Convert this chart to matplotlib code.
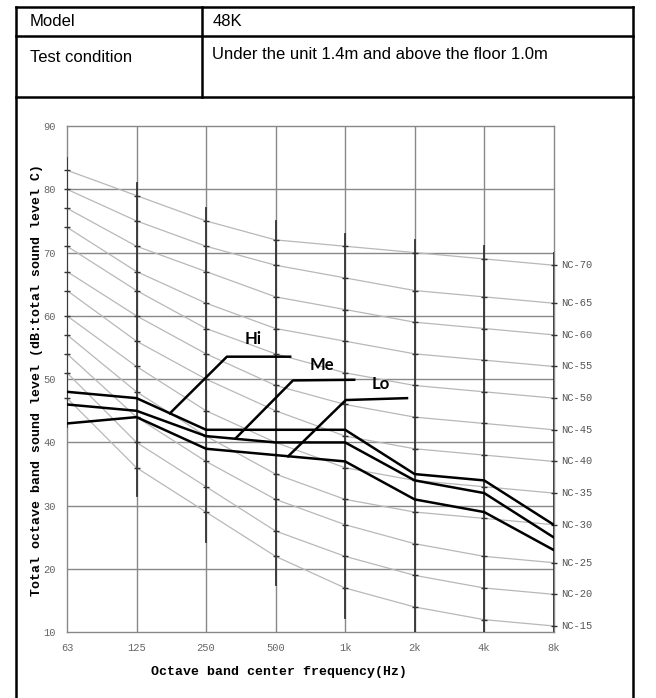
import matplotlib
matplotlib.use('Agg')
import matplotlib.pyplot as plt
from matplotlib.lines import Line2D

# octave bands
bands = ['63', '125', '250', '500', '1k', '2k', '4k', '8k']
x = list(range(len(bands)))

# measured levels (dB)
hi = [48, 47, 42, 42, 42, 35, 34, 27]
me = [46, 45, 41, 40, 40, 34, 32, 25]
lo = [43, 44, 39, 38, 37, 31, 29, 23]

# NC reference curves
nc_levels = [15, 20, 25, 30, 35, 40, 45, 50, 55, 60, 65, 70]
nc_curves = [
    [47, 36, 29, 22, 17, 14, 12, 11],
    [51, 40, 33, 26, 22, 19, 17, 16],
    [54, 44, 37, 31, 27, 24, 22, 21],
    [57, 48, 41, 35, 31, 29, 28, 27],
    [60, 52, 45, 40, 36, 34, 33, 32],
    [64, 56, 50, 45, 41, 39, 38, 37],
    [67, 60, 54, 49, 46, 44, 43, 42],
    [71, 64, 58, 54, 51, 49, 48, 47],
    [74, 67, 62, 58, 56, 54, 53, 52],
    [77, 71, 67, 63, 61, 59, 58, 57],
    [80, 75, 71, 68, 66, 64, 63, 62],
    [83, 79, 75, 72, 71, 70, 69, 68],
]
ruler_top = [85, 81, 77, 75, 73, 72, 71, 70]
ruler_bottom = [42.5, 31.5, 24.3, 17.4, 12.2, 10, 10, 10]

# leader lines for labels: (start, corner, end), label position
hi_leader = ([1.48, 2.30, 3.21], [44.6, 53.55, 53.55])
me_leader = ([2.43, 3.25, 4.13], [40.7, 49.8, 49.9])
lo_leader = ([3.18, 4.01, 4.89], [37.8, 46.7, 47.0])
labels = ['Hi', 'Me', 'Lo']
label_x = [2.68, 3.66, 4.51]
label_y = [56.3, 52.2, 49.2]

W, H = 656, 698
fig = plt.figure(figsize=(W / 100, H / 100), dpi=100)

def fx(px):
    return px / W

def fy(py):
    return 1 - py / H

def fline(x0, y0, x1, y1):
    fig.add_artist(Line2D([fx(x0), fx(x1)], [fy(y0), fy(y1)],
                          transform=fig.transFigure, color='black', lw=1.8))

# table frame
fline(16, 7.3, 632.7, 7.3)
fline(16, 36, 632.7, 36)
fline(16, 96.7, 632.7, 96.7)
fline(16, 7.3, 16, 698)
fline(632.7, 7.3, 632.7, 698)
fline(201.7, 7.3, 201.7, 96.7)

tfont = dict(family='Liberation Sans', fontsize=12, va='center', ha='left')
fig.text(fx(30), fy(21.5), 'Model', **tfont)
fig.text(fx(213), fy(21.5), '48K', **tfont)
fig.text(fx(30), fy(57), 'Test condition', **tfont)
fig.text(fx(212), fy(54.5), 'Under the unit 1.4m and above the floor 1.0m', **tfont)

# chart
ax = fig.add_axes([fx(67), fy(632.3), (553.7 - 67) / W, (632.3 - 126) / H])
ax.set_xlim(0, 7)
ax.set_ylim(10, 90)
for s in ax.spines.values():
    s.set_color('#888888')
    s.set_linewidth(1.0)

for yv in range(20, 90, 10):
    ax.axhline(yv, color='#888888', lw=1.0, zorder=1)
for xv in x[1:-1]:
    ax.axvline(xv, color='#888888', lw=1.0, zorder=1)

for vals in nc_curves:
    ax.plot(x, vals, color='#b8b8b8', lw=0.9, zorder=2)

# rulers with tick marks at the NC values
for i in x:
    ax.plot([i, i], [ruler_bottom[i], ruler_top[i]], color='#333333', lw=1.3, zorder=3)
    ax.plot([i] * len(nc_curves), [c[i] for c in nc_curves], ls='none',
            marker='_', ms=5, mew=1.0, color='#333333', zorder=3, clip_on=False)

for series in (hi, me, lo):
    ax.plot(x, series, color='black', lw=1.8, zorder=5)

for (lx, ly), name, tx, ty in zip((hi_leader, me_leader, lo_leader), labels, label_x, label_y):
    ax.plot(lx, ly, color='black', lw=1.8, zorder=5)
    ax.text(tx, ty, name, family='Lato', fontweight='bold', fontsize=12,
            ha='center', va='center', zorder=6)

for lvl, vals in zip(nc_levels, nc_curves):
    ax.text(7.1, vals[-1], 'NC-%d' % lvl, family='Liberation Mono', fontsize=7.5,
            color='#555555', ha='left', va='center', clip_on=False)

ax.set_xticks(x)
ax.set_xticklabels(bands)
ax.set_yticks(range(10, 91, 10))
ax.tick_params(length=0, labelsize=7.5, labelcolor='#666666', pad=8)
for lab in ax.get_xticklabels() + ax.get_yticklabels():
    lab.set_family('Liberation Mono')

fig.text(fx(279), fy(672), 'Octave band center frequency(Hz)', family='Liberation Mono',
         fontweight='bold', fontsize=9.5, ha='center', va='center')
fig.text(fx(37), fy(380), 'Total octave band sound level (dB:total sound level C)',
         family='Liberation Mono', fontweight='bold', fontsize=9.5,
         rotation=90, ha='center', va='center')

fig.savefig('out.png', dpi=100)
